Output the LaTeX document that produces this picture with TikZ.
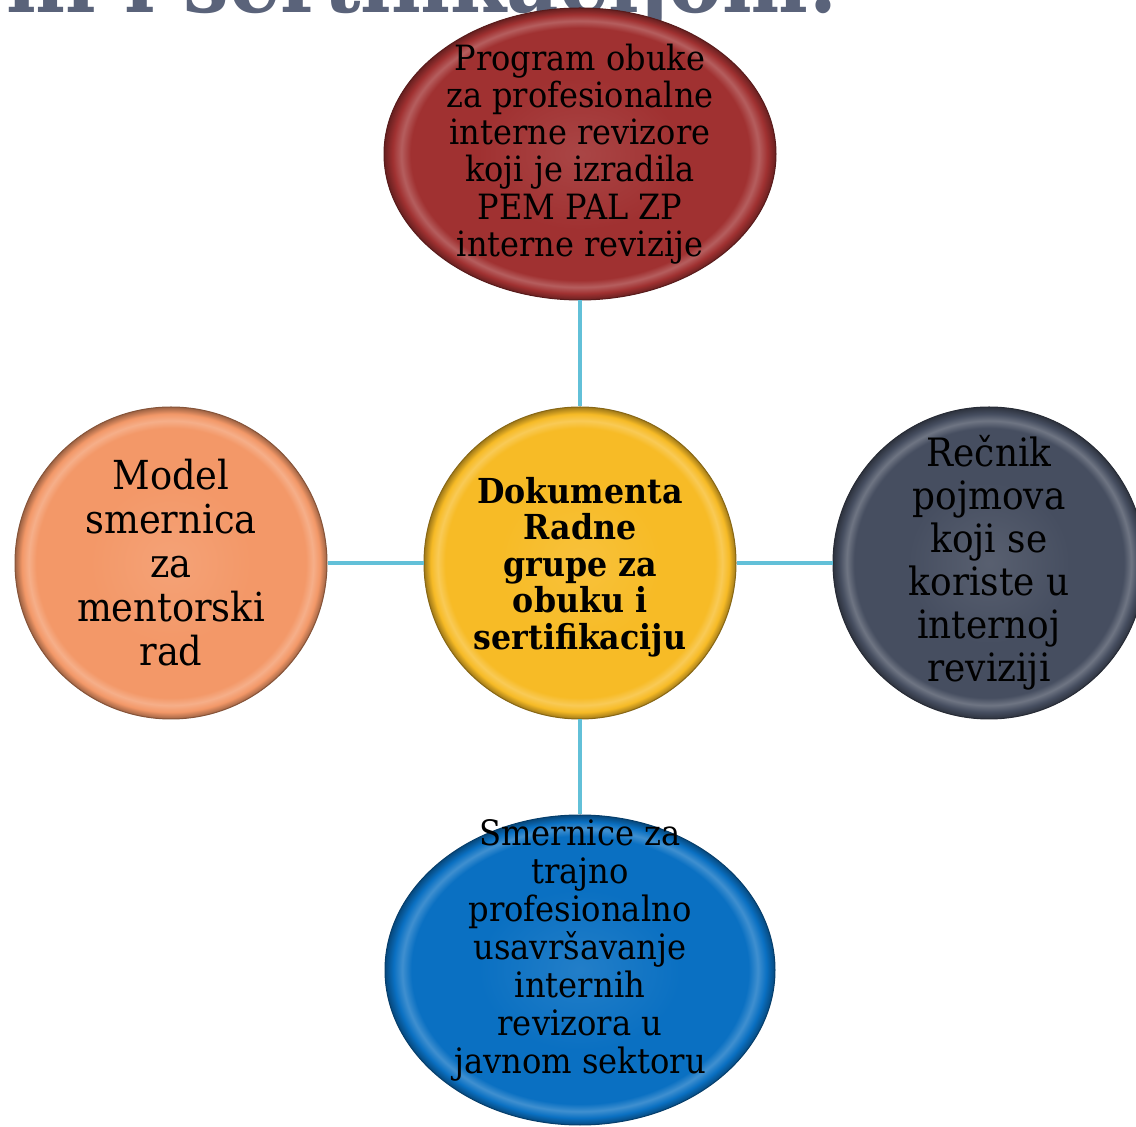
\documentclass[tikz,border=0pt]{standalone}
\usepackage{fontspec}
\setmainfont{DejaVu Serif}[FakeStretch=0.92]
\usetikzlibrary{shapes.geometric, positioning}
\usepackage{xcolor}

\definecolor{linkblue}{RGB}{98,192,216}
\definecolor{headgray}{RGB}{90,99,122}
\definecolor{progred}{RGB}{160,49,49}
\definecolor{hubgold}{RGB}{247,187,38}
\definecolor{mentorpeach}{RGB}{243,152,104}
\definecolor{glossslate}{RGB}{70,78,96}
\definecolor{cpdblue}{RGB}{10,112,194}
\colorlet{rimcol}{progred}

% button look: flat face, light bevel ring, dark edge
\pgfdeclareradialshading[rimcol]{rim}{\pgfpointorigin}{%
	color(0bp)=(rimcol!90!white);
	color(13bp)=(rimcol);
	color(21.6bp)=(rimcol);
	color(22.8bp)=(rimcol!78!white);
	color(23.9bp)=(rimcol);
	color(25bp)=(rimcol!65!black);
	color(50bp)=(rimcol!65!black)}

\begin{document}
\begin{tikzpicture}[x=0.5pt, y=-0.5pt,
		rim color/.code={\colorlet{rimcol}{#1}},
		bubble/.style={rim color=#1, shade, shading=rim, draw=#1!55!black, line width=.5pt, inner sep=0pt},
		round/.style={circle, minimum size=156pt},
		oval/.style={ellipse, minimum width=196pt, minimum height=146pt},
		txt/.style={align=center, text=black, inner sep=0pt},
		link/.style={draw=linkblue, line width=1.8pt}]
	\useasboundingbox (0,0) rectangle (1136,1127);
	\clip (0,0) rectangle (1136,1127);

	% heading cut by the top edge
	\node[anchor=base west, inner sep=0pt, text=headgray, font=\bfseries] (heading) at (6,13)
		{\resizebox{416pt}{!}{ni i sertifikacijom:}};

	\draw (580,154) node[bubble=progred, oval] (program)
			[label={[txt, font=\fontsize{17.4}{18.6}\selectfont]center:Program obuke\\za profesionalne\\interne revizore\\koji je izradila\\PEM PAL ZP\\interne revizije}] {}
		(580,563) node[bubble=hubgold, round] (hub)
			[label={[txt, font=\fontsize{17.2}{18.2}\selectfont\bfseries, yshift=-2pt]center:Dokumenta\\Radne\\grupe za\\obuku i\\sertifikaciju}] {}
		(171,563) node[bubble=mentorpeach, round] (mentor)
			[label={[txt, font=\fontsize{20}{22}\selectfont]center:Model\\smernica\\za\\mentorski\\rad}] {}
		(989,563) node[bubble=glossslate, round] (glossary)
			[label={[txt, font=\fontsize{19.5}{21.5}\selectfont]center:Rečnik\\pojmova\\koji se\\koriste u\\internoj\\reviziji}] {}
		(580,970) node[bubble=cpdblue, oval, minimum width=195pt, minimum height=155pt] (cpd)
			[label={[txt, font=\fontsize{17.5}{19}\selectfont, yshift=10pt]center:Smernice za\\trajno\\profesionalno\\usavršavanje\\internih\\revizora u\\javnom sektoru}] {};

	\draw[link] (program) -- (hub);
	\draw[link] (mentor) -- (hub);
	\draw[link] (hub) -- (glossary);
	\draw[link] (hub) -- (cpd);
\end{tikzpicture}
\end{document}
